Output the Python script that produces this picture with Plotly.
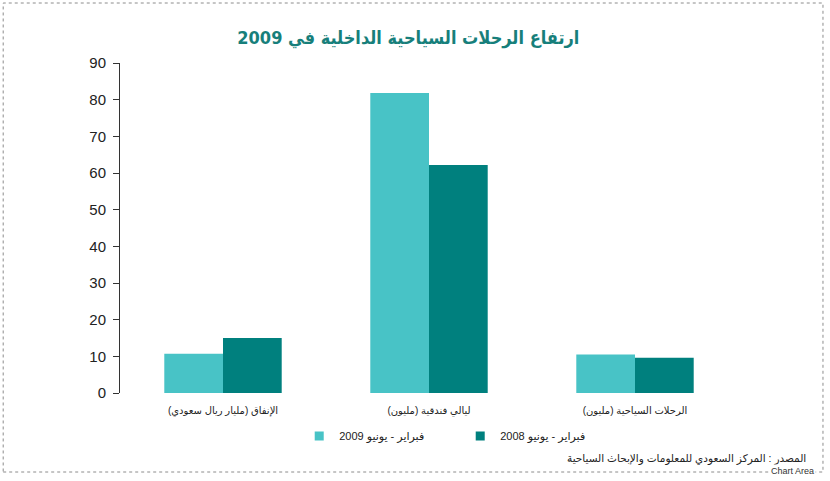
import plotly.graph_objects as go

# categories (left to right as drawn) and values, Feb-Jun
categories = [
    "الإنفاق (مليار ريال سعودي)\u200f",
    "ليالي فندقية (مليون)\u200f",
    "الرحلات السياحية (مليون)\u200f",
]
values_2009 = [10.7, 81.8, 10.5]
values_2008 = [15.0, 62.2, 9.6]
series_names = ["فبراير - يونيو 2009", "فبراير - يونيو 2008"]

title_text = "ارتفاع الرحلات السياحية الداخلية في 2009"
source_text = "المصدر : المركز السعودي للمعلومات والإبحاث السياحية"

LIGHT = "#48C3C6"
DARK = "#00807E"
FONT = "Arial, DejaVu Sans, sans-serif"

fig = go.Figure()
fig.add_trace(go.Bar(x=categories, y=values_2009, name=series_names[0],
                     marker=dict(color=LIGHT, line=dict(width=0)), showlegend=False))
fig.add_trace(go.Bar(x=categories, y=values_2008, name=series_names[1],
                     marker=dict(color=DARK, line=dict(width=0)), showlegend=False))

# small square legend keys
for name, col in zip(series_names, [LIGHT, DARK]):
    fig.add_trace(go.Scatter(x=[None], y=[None], mode="markers", name=name,
                             marker=dict(symbol="square", size=9, color=col)))

fig.update_layout(
    width=830, height=481,
    margin=dict(l=120, r=92, t=63, b=88),
    paper_bgcolor="white", plot_bgcolor="white",
    barmode="group", bargap=0.43, bargroupgap=0,
    font=dict(family=FONT, color="#222222"),
    title=dict(text="<b>" + title_text + "</b>", x=0.492, xanchor="center",
               y=0.922, yanchor="middle",
               font=dict(family="DejaVu Sans Condensed, DejaVu Sans", size=18, color="#177F7B")),
    legend=dict(orientation="h", x=0.29, xanchor="left", y=-0.13,
                yanchor="middle", font=dict(size=11, color="#222222"),
                entrywidth=116, itemwidth=30, bgcolor="rgba(0,0,0,0)"),
    showlegend=True,
)

fig.update_yaxes(range=[0, 90], dtick=10, showgrid=False, zeroline=False,
                 showline=True, linecolor="#333333", linewidth=1,
                 ticks="outside", ticklen=6, tickcolor="#333333",
                 ticklabelstandoff=4,
                 tickfont=dict(size=15, color="#222222"))
fig.update_xaxes(showgrid=False, showline=False, ticks="",
                 ticklabelstandoff=10,
                 tickfont=dict(size=10, color="#222222"))

# dotted chart-area border
fig.add_shape(type="rect", xref="paper", yref="paper",
              x0=-0.189, x1=1.1375, y0=-0.2394, y1=1.1818,
              line=dict(color="#8C8C8C", width=1, dash="dot"))

fig.add_annotation(text=source_text, xref="paper", yref="paper",
                   x=1.113, y=-0.197, xanchor="right", yanchor="middle",
                   showarrow=False, font=dict(size=10.5, color="#222222"))
fig.add_annotation(text="Chart Area", xref="paper", yref="paper",
                   x=1.126, y=-0.236, xanchor="right", yanchor="middle",
                   showarrow=False, bgcolor="white",
                   font=dict(size=9, color="#333333"))

fig.write_html("out.html", config={"displayModeBar": False},
               post_script="document.body.style.margin='0';")
